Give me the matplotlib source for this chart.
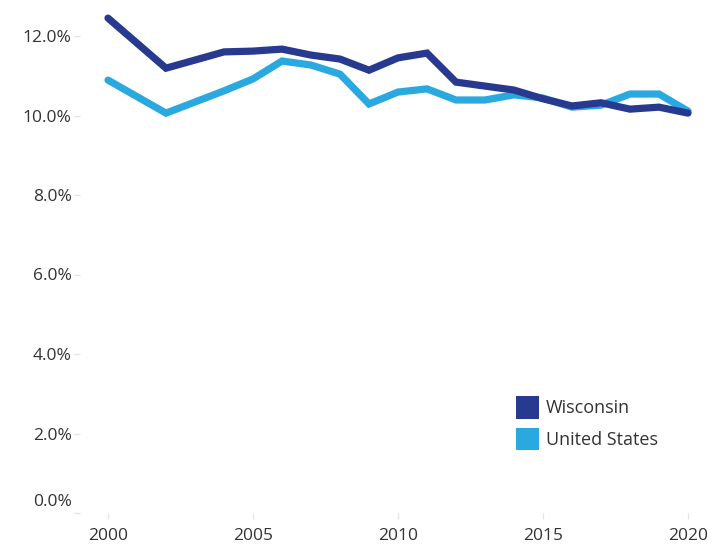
import matplotlib
matplotlib.use('Agg')
import matplotlib.pyplot as plt
from matplotlib.patches import Patch
from matplotlib.transforms import ScaledTranslation

plt.rcParams['font.family'] = ['Open Sans', 'DejaVu Sans']

years = [2000, 2002, 2004, 2005, 2006, 2007, 2008, 2009, 2010, 2011,
         2012, 2013, 2014, 2015, 2016, 2017, 2018, 2019, 2020]
wisconsin = [12.45, 11.19, 11.60, 11.62, 11.67, 11.52, 11.42, 11.14, 11.45, 11.57,
             10.84, 10.74, 10.64, 10.42, 10.24, 10.32, 10.16, 10.21, 10.06]
united_states = [10.89, 10.06, 10.62, 10.92, 11.37, 11.27, 11.04, 10.29, 10.59, 10.67,
                 10.39, 10.39, 10.52, 10.44, 10.21, 10.26, 10.54, 10.54, 10.11]
x_ticks = [2000, 2005, 2010, 2015, 2020]
y_ticks = [0, 2, 4, 6, 8, 10, 12]

wi_color = '#283a8f'
us_color = '#29a9e0'
text_color = '#333333'
tick_color = '#e6e6e6'

fig = plt.figure(figsize=(7.25, 5.46), dpi=100)
ax = fig.add_axes([80 / 725, 33 / 546, 635 / 725, 508 / 546])

ax.plot(years, united_states, color=us_color, lw=5.2, solid_joinstyle='miter', solid_capstyle='round')
ax.plot(years, wisconsin, color=wi_color, lw=5.2, solid_joinstyle='miter', solid_capstyle='round')

ax.set_xlim(2000 - 28 / 29, 2020 + 27 / 29)
ax.set_ylim(0, 508 / 39.75)

ax.set_xticks(x_ticks)
ax.set_yticks(y_ticks)
ax.set_yticklabels([f'{v:.1f}%' for v in y_ticks])
for s in ax.spines.values():
    s.set_visible(False)
ax.tick_params(axis='x', length=4, width=1, color=tick_color, pad=7,
               labelsize=12.5, labelcolor=text_color)
ax.tick_params(axis='y', length=4.5, width=1, color=tick_color, pad=1.5,
               labelsize=12.5, labelcolor=text_color)

# the bottom label sits above its tick, as in the original
lbl = ax.get_yticklabels()[0]
lbl.set_transform(lbl.get_transform() + ScaledTranslation(0, 0.13, fig.dpi_scale_trans))

handles = [Patch(facecolor=wi_color, edgecolor='none'),
           Patch(facecolor=us_color, edgecolor='none')]
fig.legend(handles, ['Wisconsin', 'United States'], loc='upper left',
           bbox_to_anchor=(516 / 725, 1 - 396 / 546), frameon=False,
           borderpad=0, borderaxespad=0, handlelength=1.25, handleheight=1.55,
           handletextpad=0.4, labelspacing=0.5, fontsize=13, labelcolor=text_color)

fig.savefig('out.png', dpi=100)
